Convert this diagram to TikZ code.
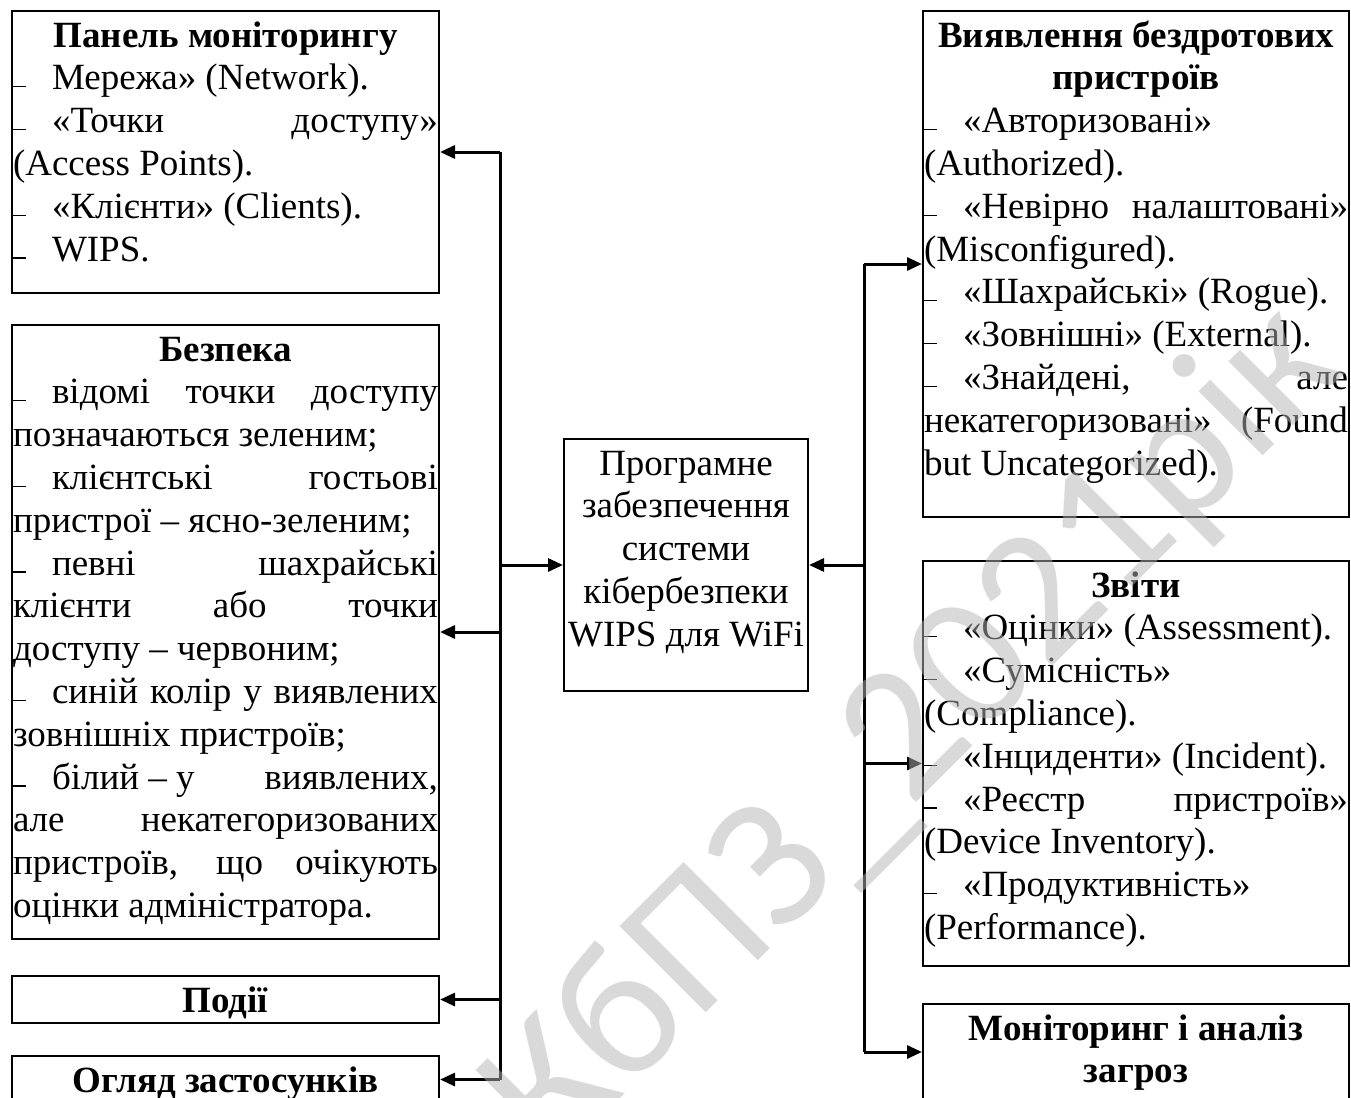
\documentclass[tikz,border=0pt]{standalone}
\usepackage{fontspec}
\setmainfont{Liberation Serif}
\newfontfamily\wmfont{Carlito}
\usetikzlibrary{arrows.meta}
\newcommand\Dst{\rule[-6.8pt]{0pt}{42.8pt}}
\newcommand\Dsh{\makebox[39pt][l]{\rule[2.5pt]{13pt}{1.2pt}}}
\newcommand\Lc[1]{\makebox[\linewidth][c]{\Dst#1}\par}
\newcommand\Ll[1]{\makebox[\linewidth][l]{\Dst#1}\par}
\newcommand\Lj[1]{\makebox[\linewidth][s]{\Dst#1}\par}
\newcommand\Bx[3]{\parbox[c][#2][t]{#1}{\fontsize{37}{42.8}\selectfont\lineskiplimit=-20pt\relax #3}}
\begin{document}
\begin{tikzpicture}[x=1pt,y=-1pt,
  box/.style={draw, line width=2pt, inner sep=0pt, inner xsep=1pt, anchor=north west},
  bus/.style={line width=3pt},
  arr/.style={line width=3pt, -{Triangle[length=15pt,width=13pt]}}]
\useasboundingbox (0,0) rectangle (1351,1097);
\clip (0,0) rectangle (1351,1097);
\fill[white] (0,0) rectangle (1351,1097);

% left column
\node[box] (A) at (11,10) {\Bx{425pt}{282pt}{%
\Lc{\textbf{Панель моніторингу}}
\Ll{\Dsh Мережа» (Network).}
\Lj{\Dsh «Точки доступу»}
\Ll{(Access Points).}
\Ll{\Dsh «Клієнти» (Clients).}
\Ll{\Dsh WIPS.}}};

\node[box] (B) at (11,324) {\Bx{425pt}{614pt}{%
\Lc{\textbf{Безпека}}
\Lj{\Dsh відомі точки доступу}
\Ll{позначаються зеленим;}
\Lj{\Dsh клієнтські гостьові}
\Ll{пристрої – ясно-зеленим;}
\Lj{\Dsh певні шахрайські}
\Lj{клієнти або точки}
\Ll{доступу – червоним;}
\Lj{\Dsh синій колір у виявлених}
\Ll{зовнішніх пристроїв;}
\Lj{\Dsh \mbox{білий – у} виявлених,}
\Lj{але некатегоризованих}
\Lj{пристроїв, що очікують}
\Ll{оцінки адміністратора.}}};

\node[box] (C) at (11,975) {\Bx{425pt}{47pt}{%
\Lc{\textbf{Події}}}};

\node[box] (D) at (11,1055) {\Bx{425pt}{47pt}{%
\Lc{\textbf{Огляд застосунків}}}};

% centre
\node[box] (M) at (563,438) {\Bx{242pt}{252pt}{%
\Lc{Програмне}
\Lc{забезпечення}
\Lc{системи}
\Lc{кібербезпеки}
\Lc{WIPS для WiFi}}};

% right column
\node[box] (E) at (922,10) {\Bx{424pt}{506pt}{%
\Lc{\textbf{Виявлення бездротових}}
\Lc{\textbf{пристроїв}}
\Ll{\Dsh «Авторизовані»}
\Ll{(Authorized).}
\Lj{\Dsh «Невірно налаштовані»}
\Ll{(Misconfigured).}
\Ll{\Dsh «Шахрайські» (Rogue).}
\Ll{\Dsh «Зовнішні» (External).}
\Lj{\Dsh «Знайдені, але}
\Lj{некатегоризовані» (Found}
\Ll{but Uncategorized).}}};

\node[box] (F) at (922,560) {\Bx{424pt}{405pt}{%
\Lc{\textbf{Звіти}}
\Ll{\Dsh «Оцінки» (Assessment).}
\Ll{\Dsh «Сумісність»}
\Ll{(Compliance).}
\Ll{\Dsh «Інциденти» (Incident).}
\Lj{\Dsh «Реєстр пристроїв»}
\Ll{(Device Inventory).}
\Ll{\Dsh «Продуктивність»}
\Ll{(Performance).}}};

\node[box] (G) at (922,1003) {\Bx{424pt}{96pt}{%
\Lc{\textbf{Моніторинг і аналіз}}
\Lc{\textbf{загроз}}}};

% buses
\coordinate (L) at (500,0);
\coordinate (R) at (864,0);
\draw[bus] (A.east -| L) -- (D.east -| L);
\draw[arr] (A.east -| L) -- (A.east);
\draw[arr] (B.east -| L) -- (B.east);
\draw[arr] (C.east -| L) -- (C.east);
\draw[arr] (D.east -| L) -- (D.east);
\draw[arr] (M.west -| L) -- (M.west);

\draw[bus] (E.west -| R) -- (G.west -| R);
\draw[arr] (E.west -| R) -- (E.west);
\draw[arr] (F.west -| R) -- (F.west);
\draw[arr] (G.west -| R) -- (G.west);
\draw[arr] (M.east -| R) -- (M.east);

% watermark
\node[rotate=45, anchor=base, text=black!29, opacity=0.5, font=\wmfont\fontsize{190}{190}\selectfont] (W) at (950,769) {КбПЗ\_2021рік};
\end{tikzpicture}
\end{document}
